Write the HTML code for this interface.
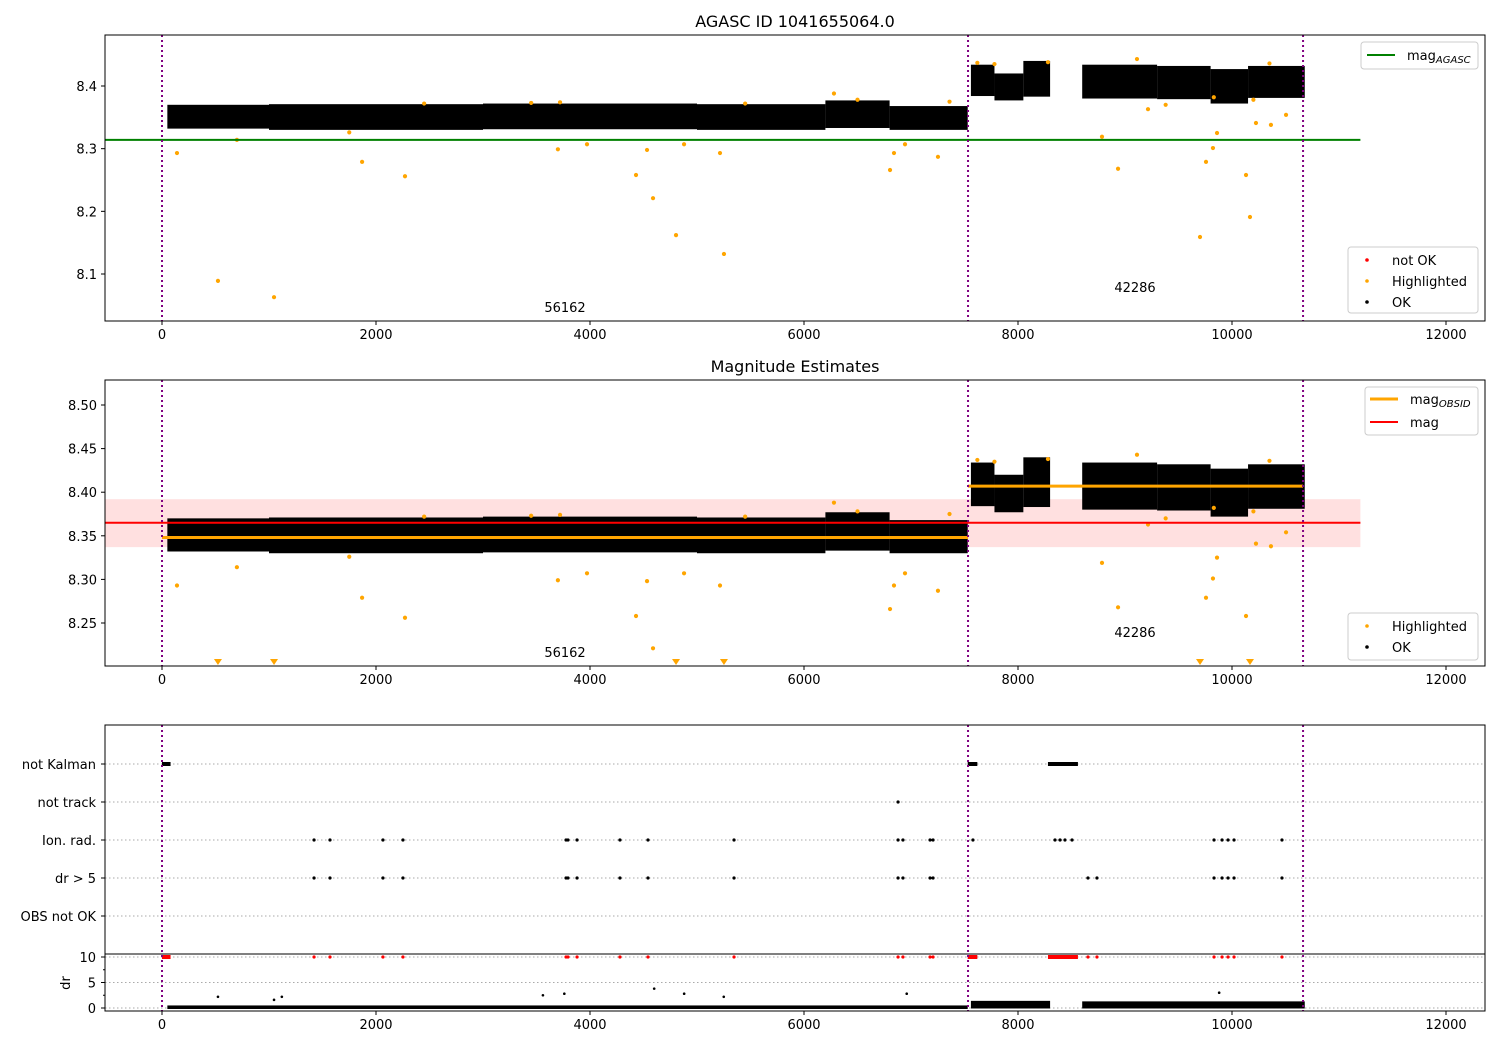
<!DOCTYPE html>
<html><head><meta charset="utf-8"><style>
body{margin:0;background:#fff}
svg{font-family:"DejaVu Sans","Liberation Sans",sans-serif}
</style></head><body>
<svg id="c" width="1500" height="1050" xmlns="http://www.w3.org/2000/svg"></svg>
<script>
// ---- data ----
const xTicks=[0,2000,4000,6000,8000,10000,12000];
const y1Ticks=[8.1,8.2,8.3,8.4];
const y2Ticks=[8.25,8.30,8.35,8.40,8.45,8.50];
const obsBounds=[0,7533,10664];
const obsIds=["56162","42286"];
// band segments: [tStart,tEnd,magLo,magHi]
const bandSegs=[[50,1000,8.332,8.370],[1000,3000,8.330,8.371],[3000,5000,8.331,8.372],[5000,6200,8.330,8.371],[6200,6800,8.333,8.377],[6800,7530,8.330,8.368],
[7560,7780,8.384,8.434],[7780,8050,8.377,8.420],[8050,8300,8.383,8.440],[8600,9300,8.380,8.434],[9300,9800,8.379,8.432],[9800,10150,8.372,8.427],[10150,10680,8.381,8.432]];
const hlT=[140,523,1047,1870,2271,3700,3972,4430,4533,4589,4804,4879,5215,5252,6804,6841,6944,7252,8785,8935,9112,9215,9701,9757,9822,9860,10131,10168,10224,10364,10505,700,1750,2450,3450,3720,5450,6280,6500,7360,7620,7780,8280,9380,9830,10200,10350];
const hlMag=[8.293,8.089,8.063,8.279,8.256,8.299,8.307,8.258,8.298,8.221,8.162,8.307,8.293,8.132,8.266,8.293,8.307,8.287,8.319,8.268,8.443,8.363,8.159,8.279,8.301,8.325,8.258,8.191,8.341,8.338,8.354,8.314,8.326,8.372,8.373,8.374,8.372,8.388,8.378,8.375,8.437,8.435,8.438,8.370,8.382,8.378,8.436];
const magAgasc=8.314;
const magAll=8.365, magLo=8.337, magHi=8.392;
const obsMag=[8.348,8.407];
const kalmanSegs=[[0,80],[7530,7620],[8280,8560]];
const notTrackT=[6879];
const ionT=[1421,1570,2065,2252,3776,3794,3879,4280,4542,5346,6879,6925,7178,7206,7579,8346,8393,8439,8505,9832,9907,9963,10019,10467];
const dr5T=[1421,1570,2065,2252,3776,3794,3879,4280,4542,5346,6879,6925,7178,7206,8654,8738,9832,9907,9963,10019,10467];
const drBand=[[50,7530,0.0,0.5],[7560,8300,0.1,1.4],[8600,10680,0.1,1.3]];
const drOutT=[523,1047,1120,3560,3760,4600,4880,5250,6960,9880];
const drOutV=[2.2,1.6,2.2,2.5,2.8,3.8,2.8,2.2,2.8,3.0];
const cats=["not Kalman","not track","Ion. rad.","dr > 5","OBS not OK"];
const drTicks=[0,5,10];

// ---- scales ----
const X=t=>162+t*0.107;
const L=105,R=1485;
const P1={top:35,bot:321,y:v=>86+(8.4-v)*626.7};
const P2={top:380,bot:666,y:v=>405+(8.5-v)*872};
const catY=i=>764+i*38;
const drY=v=>1008-v*5.1;
const NS="http://www.w3.org/2000/svg";
const svg=document.getElementById('c');
function el(tag,attrs,parent,txt){const e=document.createElementNS(NS,tag);for(const k in attrs)e.setAttribute(k,attrs[k]);if(txt!==undefined)e.textContent=txt;(parent||svg).appendChild(e);return e;}

function clip(id,top,bot){const d=el('defs',{});const c=el('clipPath',{id:id},d);el('rect',{x:L,y:top,width:R-L,height:bot-top},c);}
clip('c1',P1.top,P1.bot);clip('c2',P2.top,P2.bot);clip('c3',725,1011);

function xAxis(bot,g){xTicks.forEach(t=>{const x=X(t);const tk=el('line',{x1:x,x2:x,y1:bot,y2:bot+4,stroke:'#000'},g);
 const lb=el('text',{x:x,y:bot+18,'text-anchor':'middle','font-size':13},g,String(t));});}
function yAxis(ticks,yf,g,fmt){ticks.forEach(v=>{const y=yf(v);el('line',{x1:L-4,x2:L,y1:y,y2:y,stroke:'#000'},g);
 const lb=el('text',{x:L-8,y:y+5,'text-anchor':'end','font-size':13},g,fmt(v));});}
function vlines(top,bot,g){obsBounds.forEach(t=>{const l=el('line',{x1:X(t),x2:X(t),y1:top,y2:bot,stroke:'#800080','stroke-width':2,'stroke-dasharray':'2,3'},g);});}
function band(P,g){bandSegs.forEach(s=>{const y1=P.y(s[3]),y2=P.y(s[2]);const r=el('rect',{x:X(s[0]),y:y1,width:X(s[1])-X(s[0]),height:y2-y1,fill:'#000'},g);});}
function hl(P,g,tri){hlT.forEach((t,i)=>{const v=hlMag[i];let y=P.y(v);
 if(tri&&y>P.bot-2){const x=X(t);const p=el('polygon',{points:`${x-4},${P.bot-7} ${x+4},${P.bot-7} ${x},${P.bot-1}`,fill:'orange'},g);return;}
 const c=el('circle',{cx:X(t),cy:y,r:2.1,fill:'orange'},g);});}

// ---- Panel 1 ----
const g1=el('g',{});
el('text',{x:795,y:27,'text-anchor':'middle','font-size':16,},g1,'AGASC ID 1041655064.0');
const g1c=el('g',{'clip-path':'url(#c1)'},g1);
band(P1,g1c);hl(P1,g1c,false);
el('line',{x1:L,x2:X(11200),y1:P1.y(magAgasc),y2:P1.y(magAgasc),stroke:'green','stroke-width':2,},g1c);
vlines(P1.top,P1.bot,g1c);
el('text',{x:565,y:312,'text-anchor':'middle','font-size':13,},g1,obsIds[0]);
el('text',{x:1135,y:292,'text-anchor':'middle','font-size':13,},g1,obsIds[1]);
el('rect',{x:L,y:P1.top,width:R-L,height:P1.bot-P1.top,fill:'none',stroke:'#000'},g1);
xAxis(P1.bot,g1);yAxis(y1Ticks,P1.y,g1,v=>v.toFixed(1));
const lg1=el('g',{},g1);
el('rect',{x:1361,y:42,width:117,height:27,rx:3,fill:'#fff',stroke:'#ccc'},lg1);
el('line',{x1:1367,x2:1395,y1:55,y2:55,stroke:'green','stroke-width':2},lg1);
const t1=el('text',{x:1407,y:60,'font-size':13},lg1,'mag');el('tspan',{'font-size':10,'font-style':'italic',dy:3},t1,'AGASC');
const lg2=el('g',{},g1);
el('rect',{x:1348,y:247,width:130,height:66,rx:3,fill:'#fff',stroke:'#ccc'},lg2);
[['red','not OK',260],['orange','Highlighted',281],['#000','OK',302]].forEach(a=>{el('circle',{cx:1367,cy:a[2],r:1.8,fill:a[0]},lg2);el('text',{x:1392,y:a[2]+5,'font-size':13},lg2,a[1]);});

// ---- Panel 2 ----
const g2=el('g',{});
el('text',{x:795,y:372,'text-anchor':'middle','font-size':16,},g2,'Magnitude Estimates');
const g2c=el('g',{'clip-path':'url(#c2)'},g2);
el('rect',{x:L,y:P2.y(magHi),width:X(11200)-L,height:P2.y(magLo)-P2.y(magHi),fill:'rgba(255,0,0,0.12)',},g2c);
band(P2,g2c);hl(P2,g2c,true);
el('line',{x1:L,x2:X(11200),y1:P2.y(magAll),y2:P2.y(magAll),stroke:'red','stroke-width':2,},g2c);
el('line',{x1:X(0),x2:X(obsBounds[1]),y1:P2.y(obsMag[0]),y2:P2.y(obsMag[0]),stroke:'orange','stroke-width':3,},g2c);
el('line',{x1:X(obsBounds[1]),x2:X(obsBounds[2]),y1:P2.y(obsMag[1]),y2:P2.y(obsMag[1]),stroke:'orange','stroke-width':3,},g2c);
vlines(P2.top,P2.bot,g2c);
el('text',{x:565,y:657,'text-anchor':'middle','font-size':13,},g2,obsIds[0]);
el('text',{x:1135,y:637,'text-anchor':'middle','font-size':13,},g2,obsIds[1]);
el('rect',{x:L,y:P2.top,width:R-L,height:P2.bot-P2.top,fill:'none',stroke:'#000'},g2);
xAxis(P2.bot,g2);yAxis(y2Ticks,P2.y,g2,v=>v.toFixed(2));
const lg3=el('g',{},g2);
el('rect',{x:1365,y:387,width:113,height:48,rx:3,fill:'#fff',stroke:'#ccc'},lg3);
el('line',{x1:1370,x2:1398,y1:399,y2:399,stroke:'orange','stroke-width':3},lg3);
const t3=el('text',{x:1410,y:404,'font-size':13},lg3,'mag');el('tspan',{'font-size':10,'font-style':'italic',dy:3},t3,'OBSID');
el('line',{x1:1370,x2:1398,y1:422,y2:422,stroke:'red','stroke-width':2},lg3);
el('text',{x:1410,y:427,'font-size':13},lg3,'mag');
const lg4=el('g',{},g2);
el('rect',{x:1348,y:613,width:130,height:47,rx:3,fill:'#fff',stroke:'#ccc'},lg4);
[['orange','Highlighted',626],['#000','OK',647]].forEach(a=>{el('circle',{cx:1367,cy:a[2],r:1.8,fill:a[0]},lg4);el('text',{x:1392,y:a[2]+5,'font-size':13},lg4,a[1]);});

// ---- Panel 3 ----
const g3=el('g',{});
const g3c=el('g',{'clip-path':'url(#c3)'},g3);
cats.forEach((c,i)=>{el('line',{x1:L,x2:R,y1:catY(i),y2:catY(i),stroke:'#aaa','stroke-dasharray':'1.5,2.5'},g3c);
 el('line',{x1:L-4,x2:L,y1:catY(i),y2:catY(i),stroke:'#000'},g3);
 const lb=el('text',{x:L-9,y:catY(i)+5,'text-anchor':'end','font-size':13},g3,c);});
drTicks.forEach(v=>{el('line',{x1:L,x2:R,y1:drY(v),y2:drY(v),stroke:'#aaa','stroke-dasharray':'1.5,2.5'},g3c);el('line',{x1:L-4,x2:L,y1:drY(v),y2:drY(v),stroke:'#000'},g3);
 el('text',{x:L-9,y:drY(v)+5,'text-anchor':'end','font-size':13},g3,String(v));});
[2.5,7.5].forEach(v=>el('line',{x1:L-2,x2:L,y1:drY(v),y2:drY(v),stroke:'#000'},g3));
el('text',{x:70,y:983,'text-anchor':'middle','font-size':13,transform:'rotate(-90 70 983)',},g3,'dr');
kalmanSegs.forEach(s=>{const r=el('rect',{x:X(s[0]),y:catY(0)-2,width:X(s[1])-X(s[0]),height:4,fill:'#000'},g3c);
 const r2=el('rect',{x:X(s[0]),y:drY(10)-2,width:X(s[1])-X(s[0]),height:4,fill:'red'},g3c);});
function dots(arr,y,col,name){arr.forEach(t=>{const c=el('circle',{cx:X(t),cy:y,r:1.6,fill:col},g3c);});}
dots(notTrackT,catY(1),'#000','not-track-mark');
dots(ionT,catY(2),'#000','ion-rad-mark');
dots(dr5T,catY(3),'#000','dr5-mark');
dots(dr5T,drY(10),'red','dr-high-mark');
drBand.forEach(s=>{const r=el('rect',{x:X(s[0]),y:drY(s[3]),width:X(s[1])-X(s[0]),height:drY(s[2])-drY(s[3])+1,fill:'#000'},g3c);});
drOutT.forEach((t,i)=>{const c=el('circle',{cx:X(t),cy:drY(drOutV[i]),r:1.3,fill:'#000'},g3c);});
vlines(725,1011,g3c);
el('line',{x1:L,x2:R,y1:954,y2:954,stroke:'#000'},g3);
el('rect',{x:L,y:725,width:R-L,height:286,fill:'none',stroke:'#000'},g3);
xAxis(1011,g3);
</script>
</body></html>
